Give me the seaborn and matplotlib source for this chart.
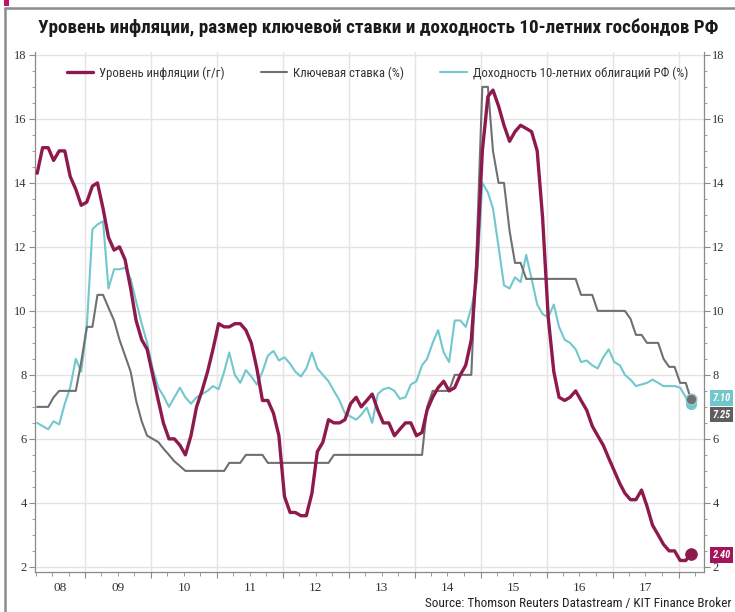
import numpy as np
import pandas as pd
import matplotlib
matplotlib.use("Agg")
import matplotlib.pyplot as plt
import matplotlib.dates as mdates
import matplotlib.ticker as mticker
import matplotlib.transforms as mtransforms
from matplotlib import font_manager
from matplotlib.patches import Rectangle
from matplotlib.lines import Line2D
import seaborn as sns

# ---------------- data (monthly, Apr 2008 .. Mar 2018) ----------------
title = "Уровень инфляции, размер ключевой ставки и доходность 10-летних госбондов РФ"
source = "Source: Thomson Reuters Datastream / KIT Finance Broker"
series_names = ["Уровень инфляции (г/г)", "Ключевая ставка (%)",
                "Доходность 10-летних облигаций РФ (%)"]
year_labels = ["08", "09", "10", "11", "12", "13", "14", "15", "16", "17"]

inflation = [
    14.3, 15.1, 15.1, 14.7, 15.0, 15.0, 14.2, 13.8, 13.3,
    13.4, 13.9, 14.0, 13.2, 12.3, 11.9, 12.0, 11.6, 10.7, 9.7, 9.1, 8.8,
    8.0, 7.2, 6.5, 6.0, 6.0, 5.8, 5.5, 6.1, 7.0, 7.5, 8.1, 8.8,
    9.6, 9.5, 9.5, 9.6, 9.6, 9.4, 9.0, 8.2, 7.2, 7.2, 6.8, 6.1,
    4.2, 3.7, 3.7, 3.6, 3.6, 4.3, 5.6, 5.9, 6.6, 6.5, 6.5, 6.6,
    7.1, 7.3, 7.0, 7.2, 7.4, 6.9, 6.5, 6.5, 6.1, 6.3, 6.5, 6.5,
    6.1, 6.2, 6.9, 7.3, 7.6, 7.8, 7.5, 7.6, 8.0, 8.3, 9.1, 11.4,
    15.0, 16.7, 16.9, 16.4, 15.8, 15.3, 15.6, 15.8, 15.7, 15.6, 15.0, 12.9,
    9.8, 8.1, 7.3, 7.2, 7.3, 7.5, 7.2, 6.9, 6.4, 6.1, 5.8, 5.4,
    5.0, 4.6, 4.3, 4.1, 4.1, 4.4, 3.9, 3.3, 3.0, 2.7, 2.5, 2.5,
    2.2, 2.2, 2.4,
]

key_rate = [
    7.0, 7.0, 7.0, 7.3, 7.5, 7.5, 7.5, 7.5, 8.4,
    9.5, 9.5, 10.5, 10.5, 10.1, 9.7, 9.1, 8.6, 8.1, 7.2, 6.55, 6.1,
    6.0, 5.9, 5.7, 5.5, 5.3, 5.15, 5.0, 5.0, 5.0, 5.0, 5.0, 5.0,
    5.0, 5.0, 5.25, 5.25, 5.25, 5.5, 5.5, 5.5, 5.5, 5.25, 5.25, 5.25,
    5.25, 5.25, 5.25, 5.25, 5.25, 5.25, 5.25, 5.25, 5.25, 5.5, 5.5, 5.5,
    5.5, 5.5, 5.5, 5.5, 5.5, 5.5, 5.5, 5.5, 5.5, 5.5, 5.5, 5.5,
    5.5, 5.5, 7.0, 7.5, 7.5, 7.5, 7.5, 8.0, 8.0, 8.0, 8.0, 12.0,
    17.0, 17.0, 15.0, 14.0, 14.0, 12.5, 11.5, 11.5, 11.0, 11.0, 11.0, 11.0,
    11.0, 11.0, 11.0, 11.0, 11.0, 11.0, 10.5, 10.5, 10.5, 10.0, 10.0, 10.0,
    10.0, 10.0, 10.0, 9.75, 9.25, 9.25, 9.0, 9.0, 9.0, 8.5, 8.25, 8.25,
    7.75, 7.75, 7.25,
]

bond_yield = [
    6.5, 6.4, 6.3, 6.55, 6.45, 7.1, 7.6, 8.5, 8.1,
    9.5, 12.55, 12.7, 12.8, 10.7, 11.3, 11.3, 11.35, 11.0, 10.3, 9.6, 9.0,
    8.2, 7.6, 7.35, 7.0, 7.3, 7.6, 7.3, 7.1, 7.3, 7.4, 7.5, 7.65,
    7.55, 8.1, 8.7, 8.0, 7.75, 8.15, 7.95, 7.7, 8.1, 8.6, 8.75, 8.45,
    8.55, 8.35, 8.1, 7.95, 8.2, 8.7, 8.2, 8.0, 7.8, 7.5, 7.2, 6.8,
    6.7, 6.6, 6.75, 6.98, 6.5, 7.4, 7.55, 7.6, 7.5, 7.25, 7.3, 7.7,
    7.8, 8.3, 8.5, 9.0, 9.4, 8.7, 8.4, 9.7, 9.7, 9.5, 10.1, 10.9,
    14.0, 13.7, 13.2, 12.0, 10.8, 10.7, 11.05, 10.9, 11.75, 11.0, 10.2, 9.9,
    9.8, 10.2, 9.5, 9.1, 9.0, 8.8, 8.4, 8.45, 8.3, 8.2, 8.55, 8.8,
    8.4, 8.3, 8.0, 7.85, 7.65, 7.7, 7.75, 7.85, 7.75, 7.65, 7.65, 7.65,
    7.6, 7.3, 7.1,
]

end_labels = ["7.10", "7.25", "2.40"]

dates = pd.date_range("2008-04-01", periods=len(inflation), freq="MS") + pd.Timedelta(days=9)
df = pd.DataFrame({"date": dates, "infl": inflation, "key": key_rate, "bond": bond_yield})

# ---------------- style ----------------
sns.set_theme(style="white")

names = {f.name for f in font_manager.fontManager.ttflist}
narrow = None
for cand in ["Liberation Sans Narrow", "Roboto Condensed", "Open Sans Condensed"]:
    if cand in names:
        narrow = cand
        break
if narrow is None:
    narrow = "Roboto" if "Roboto" in names else "DejaVu Sans"
serif = "Liberation Serif" if "Liberation Serif" in names else "DejaVu Serif"

# numbers (tick labels) in a serif face, all other text in a narrow sans
plt.rcParams["font.family"] = [serif, "DejaVu Serif"]
SANS = [narrow, "DejaVu Sans"]

C_INF = "#8E1A4D"
C_KEY = "#707070"
C_BOND = "#72C7CD"
GRID = "#E4E4E4"
SPINE = "#8A8A8A"

W, H = 735, 612
fig = plt.figure(figsize=(W / 100, H / 100), dpi=100)
fig.patch.set_facecolor("white")

ax_l, ax_r, ax_t, ax_b = 35, 704, 52, 572
ax = fig.add_axes([ax_l / W, (H - ax_b) / H, (ax_r - ax_l) / W, (ax_b - ax_t) / H])
ax.set_facecolor("white")

sns.lineplot(data=df, x="date", y="bond", ax=ax, color=C_BOND, lw=1.5,
             label=series_names[2], zorder=3)
sns.lineplot(data=df, x="date", y="key", ax=ax, color=C_KEY, lw=1.5,
             label=series_names[1], zorder=4)
sns.lineplot(data=df, x="date", y="infl", ax=ax, color=C_INF, lw=2.4,
             label=series_names[0], zorder=5)

# end markers
last = df.iloc[[-1]]
sns.scatterplot(data=last, x="date", y="bond", ax=ax, color=C_BOND, s=55,
                edgecolor=C_BOND, zorder=6, legend=False)
sns.scatterplot(data=last, x="date", y="key", ax=ax, color=C_KEY, s=60,
                edgecolor="#8FC9CE", linewidth=1, zorder=7, legend=False)
sns.scatterplot(data=last, x="date", y="infl", ax=ax, color=C_INF, s=70,
                edgecolor=C_INF, zorder=7, legend=False)

# axes limits
ax.set_xlim(pd.Timestamp("2008-03-29"), pd.Timestamp("2018-05-22"))
ax.set_ylim(1.84, 18.09)
ax.set_xlabel("")
ax.set_ylabel("")

# grid + ticks
ax.xaxis.set_major_locator(mdates.YearLocator())
ax.xaxis.set_minor_locator(mdates.MonthLocator(bymonth=[1, 4, 7, 10]))
ax.xaxis.set_major_formatter(mticker.NullFormatter())
ax.yaxis.set_major_locator(mticker.MultipleLocator(2))
ax.yaxis.set_minor_locator(mticker.MultipleLocator(0.5))
ax.grid(True, which="major", color=GRID, lw=1.0, zorder=0)
ax.set_axisbelow(True)

for side in ["left", "right", "bottom"]:
    ax.spines[side].set_visible(True)
    ax.spines[side].set_color(SPINE)
    ax.spines[side].set_linewidth(0.9)
ax.spines["top"].set_visible(False)

ax.tick_params(axis="y", which="both", left=True, right=True,
               labelleft=True, labelright=True, direction="out",
               color=SPINE, labelcolor="#333333", labelsize=9)
ax.tick_params(axis="y", which="major", length=4, width=0.8, pad=2)
ax.tick_params(axis="y", which="minor", length=2.5, width=0.6)
ax.tick_params(axis="x", which="both", bottom=True, direction="out", color=SPINE)
ax.tick_params(axis="x", which="major", length=4, width=0.8)
ax.tick_params(axis="x", which="minor", length=3, width=0.6)

# year labels centred in each (visible) year
trans = mtransforms.blended_transform_factory(ax.transData, ax.transAxes)
x0, x1 = ax.get_xlim()
for i, yl in enumerate(year_labels):
    yr = 2008 + i
    a = max(mdates.date2num(pd.Timestamp(f"{yr}-01-01")), x0)
    b = min(mdates.date2num(pd.Timestamp(f"{yr + 1}-01-01")), x1)
    ax.text((a + b) / 2, -0.031, yl, transform=trans, ha="center", va="center",
            fontsize=9.5, color="#333333")

# legend
leg = ax.legend(handles=[Line2D([], [], color=C_INF, lw=2.4),
                         Line2D([], [], color=C_KEY, lw=1.5),
                         Line2D([], [], color=C_BOND, lw=1.5)],
                labels=series_names, loc="upper left", bbox_to_anchor=(0.03, 0.995),
                ncol=3, frameon=False, prop={"family": SANS, "size": 9.2},
                handlelength=2.1, handletextpad=0.45, columnspacing=2.8)
for t in leg.get_texts():
    t.set_color("#333333")

# right-hand value boxes
box_cols = [C_BOND, "#5E5E5E", "#A3145A"]
box_y = [7.28, 6.75, 2.37]
for txt, col, yv in zip(end_labels, box_cols, box_y):
    ax.annotate(txt, xy=(1.0, yv), xycoords=("axes fraction", "data"),
                xytext=(6, 0), textcoords="offset points", ha="left", va="center",
                fontsize=7.5, color="white", style="italic", fontweight="bold",
                family=SANS,
                bbox=dict(boxstyle="square,pad=0.25", fc=col, ec="none"),
                annotation_clip=False, zorder=10)

# title + source
fig.canvas.draw()
renderer = fig.canvas.get_renderer()


def fit(textobj, width_px):
    bb = textobj.get_window_extent(renderer)
    textobj.set_fontsize(textobj.get_fontsize() * width_px / bb.width)


t_title = fig.text(38 / W, 1 - 28 / H, title, ha="left", va="center",
                   fontsize=14, color="#1a1a1a", fontweight="bold", family=SANS)
fit(t_title, 680)
t_src = fig.text(425 / W, 1 - 604 / H, source, ha="left", va="center",
                 fontsize=7.5, color="#222222", family=SANS)
fit(t_src, 306)

# frame around the card + accent mark
fig.add_artist(Line2D([5 / W, 1.0], [1 - 8 / H, 1 - 8 / H], transform=fig.transFigure,
                      color="#8C8C8C", lw=1.8))
fig.add_artist(Line2D([5 / W, 5 / W], [1 - 8 / H, 0.0], transform=fig.transFigure,
                      color="#8C8C8C", lw=1.8))
fig.add_artist(Rectangle((4 / W, 1 - 6 / H), 5 / W, 6 / H, transform=fig.transFigure,
                         fc="#C0106A", ec="none"))

fig.savefig("out.png", dpi=100, facecolor="white")
